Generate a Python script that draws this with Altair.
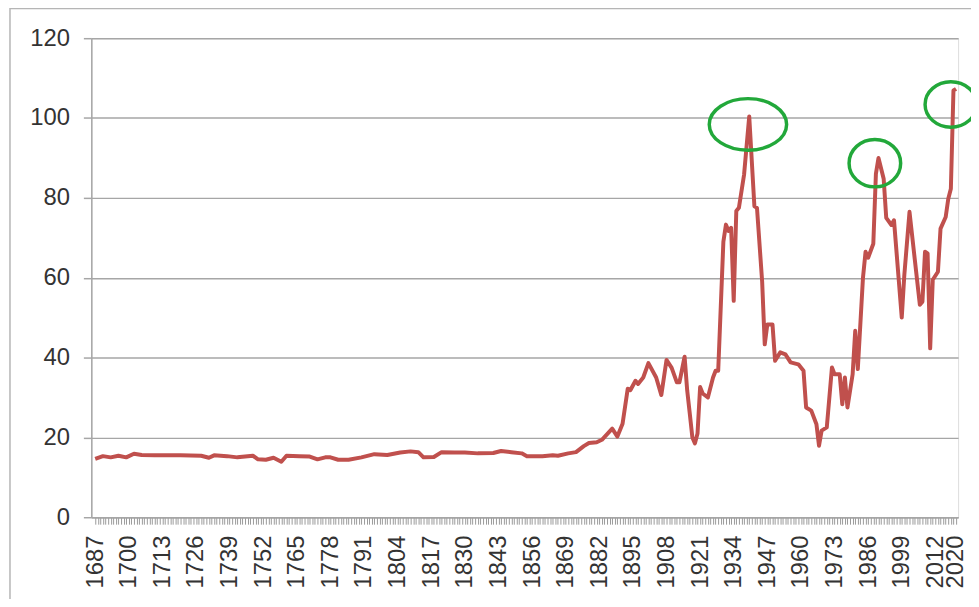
import altair as alt
import pandas as pd

# ---- data ----
years = [1687, 1690, 1693, 1696, 1699, 1702, 1705, 1710, 1720, 1728, 1731, 1733, 1738, 1742,
         1745, 1748, 1750, 1753, 1756, 1759, 1761, 1766, 1770, 1773, 1776, 1778, 1781, 1785,
         1790, 1795, 1800, 1805, 1809, 1812, 1814, 1818, 1821, 1826, 1830, 1835, 1841, 1844,
         1848, 1852, 1854, 1860, 1864, 1866, 1870, 1873, 1876, 1878, 1881, 1883, 1887, 1889,
         1891, 1893, 1894, 1896, 1897, 1899, 1901, 1904, 1906, 1908, 1910, 1912, 1913, 1915,
         1916, 1917, 1918, 1919, 1920, 1921, 1922, 1924, 1926, 1927, 1928, 1930, 1931, 1932,
         1933, 1934, 1935, 1936, 1938, 1940, 1942, 1943, 1945, 1946, 1947, 1949, 1950, 1952,
         1954, 1956, 1959, 1961, 1962, 1964, 1966, 1967, 1968, 1970, 1972, 1973, 1975, 1976,
         1977, 1978, 1980, 1981, 1982, 1984, 1985, 1986, 1988, 1989, 1990, 1992, 1993, 1995,
         1996, 1999, 2000, 2002, 2004, 2006, 2007, 2008, 2009, 2010, 2011, 2013, 2014, 2016,
         2017, 2018, 2019, 2020]
values = [14.6, 15.3, 15.0, 15.4, 15.0, 15.9, 15.6, 15.5, 15.5, 15.4, 14.9, 15.5, 15.3, 15.0,
          15.2, 15.4, 14.5, 14.4, 14.9, 13.9, 15.4, 15.3, 15.2, 14.5, 15.0, 15.0, 14.4, 14.4,
          15.0, 15.8, 15.6, 16.2, 16.5, 16.3, 15.0, 15.1, 16.3, 16.2, 16.2, 16.0, 16.1, 16.6,
          16.3, 16.0, 15.3, 15.3, 15.5, 15.4, 16.0, 16.3, 17.8, 18.6, 18.8, 19.4, 22.2, 20.2,
          23.4, 32.2, 31.8, 34.2, 33.4, 35.0, 38.6, 35.0, 30.6, 39.4, 37.4, 33.8, 33.8, 40.2,
          31.8, 26.0, 20.0, 18.5, 21.0, 32.6, 31.0, 30.0, 35.0, 36.7, 36.7, 69.0, 73.3, 71.7,
          72.5, 54.2, 76.7, 77.5, 85.8, 100.4, 77.9, 77.5, 59.0, 43.3, 48.3, 48.3, 39.2, 41.3,
          40.8, 38.8, 38.3, 36.7, 27.5, 26.7, 23.3, 17.9, 21.7, 22.5, 37.5, 35.8, 35.8, 28.3,
          35.0, 27.5, 35.8, 46.7, 37.1, 60.0, 66.5, 65.0, 68.5, 86.0, 90.0, 84.8, 75.0, 73.2,
          74.4, 50.0, 60.7, 76.5, 64.8, 53.2, 54.0, 66.5, 66.1, 42.3, 59.5, 61.5, 72.3, 75.2,
          79.8, 82.3, 106.9, 107.3]

y_ticks = [0, 20, 40, 60, 80, 100, 120]
label_years = [1687 + 13 * i for i in range(26)] + [2020]
all_years = list(range(1687, 2021))

# highlighted peaks (green ellipses): centre year, centre value
peak_years = [1939.5, 1988.6, 2018.0]
peak_values = [98.4, 88.7, 103.4]

df = pd.DataFrame({"year": years, "value": values})

FONT = "Liberation Sans"
GRID = "#A6A6A6"
xscale = alt.Scale(domain=[1685.5, 2020.8], nice=False, zero=False)
yscale = alt.Scale(domain=[0, 120], nice=False)

label_test = " || ".join(f"datum.value == {y}" for y in label_years)

line = alt.Chart(df).mark_line(color="#C0504D", strokeWidth=4, strokeJoin="round").encode(
    x=alt.X("year:Q", scale=xscale, title=None,
            axis=alt.Axis(values=all_years, tickCount=1000,
                          labelExpr=f"({label_test}) ? datum.label : ''",
                          format="d", labelAngle=270, labelOverlap=False, labelFlush=False,
                          labelFontSize=24, labelFont=FONT, labelColor="#333333",
                          labelPadding=11, tickSize=7, tickColor="#9A9A9A", tickWidth=1,
                          domainColor=GRID, domainWidth=1.5, grid=False)),
    y=alt.Y("value:Q", scale=yscale, title=None,
            axis=alt.Axis(values=y_ticks, labelFontSize=24, labelFont=FONT,
                          labelColor="#333333", labelPadding=14, tickSize=8,
                          tickColor=GRID, tickWidth=1.5, domainColor=GRID, domainWidth=1.5,
                          grid=True, gridColor=GRID, gridWidth=1.5)),
)


def ellipse_path(r):
    k = 0.5523
    return (f"M -1 0 C -1 {-k*r:.3f} {-k:.3f} {-r:.3f} 0 {-r:.3f} "
            f"C {k:.3f} {-r:.3f} 1 {-k*r:.3f} 1 0 "
            f"C 1 {k*r:.3f} {k:.3f} {r:.3f} 0 {r:.3f} "
            f"C {-k:.3f} {r:.3f} -1 {k*r:.3f} -1 0 Z")


ell_styles = [(78, 0.667), (52, 0.92), (52, 0.88)]
ellipses = []
for (py, pv), (w, r) in zip(zip(peak_years, peak_values), ell_styles):
    ellipses.append(
        alt.Chart(pd.DataFrame({"year": [py], "value": [pv]})).mark_point(
            shape=ellipse_path(r), size=w * w, filled=False, stroke="#22A83A",
            strokeWidth=3.5, opacity=1).encode(
            x=alt.X("year:Q", scale=xscale), y=alt.Y("value:Q", scale=yscale))
    )

frame = alt.Chart(pd.DataFrame({"a": [0]})).mark_rect(
    fill=None, stroke="#B5B5B5", strokeWidth=1.5).encode(
    x=alt.value(-82), y=alt.value(-30), x2=alt.value(1200), y2=alt.value(900))

chart = alt.layer(frame, line, *ellipses).properties(
    width=874, height=483,
    autosize=alt.AutoSizeParams(type="none"),
    padding={"left": 84, "top": 28, "right": 13, "bottom": 80},
).configure_view(stroke=None).configure(background="white")

chart.save("out.html", embed_options={"renderer": "svg", "actions": False})
